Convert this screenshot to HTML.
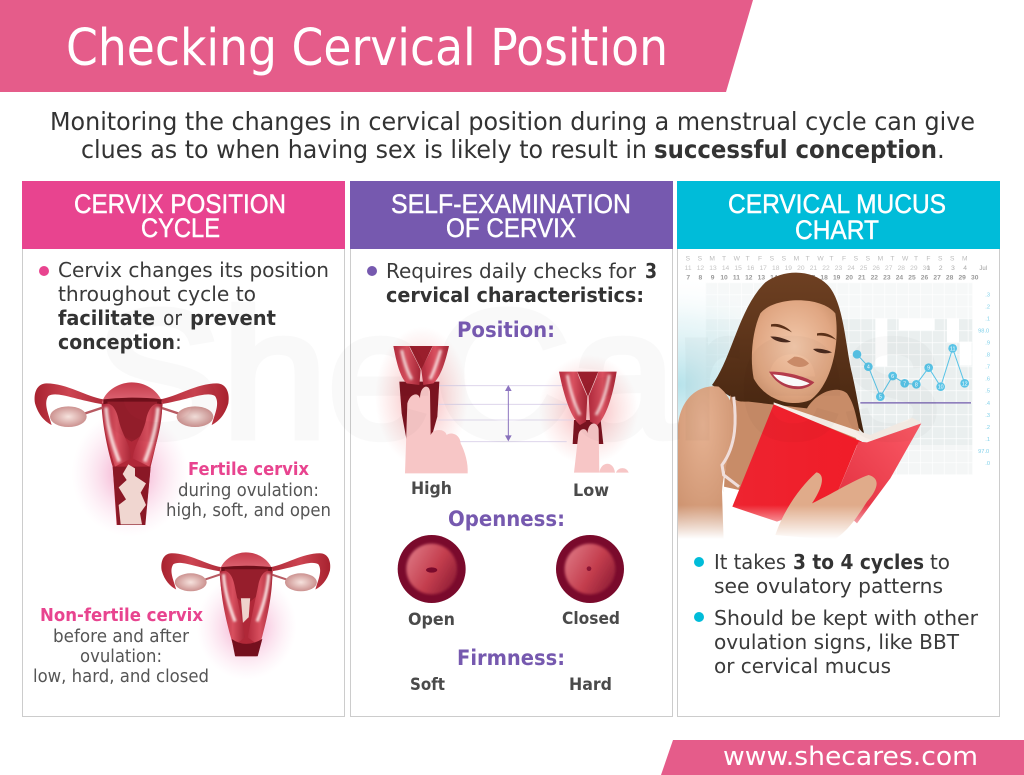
<!DOCTYPE html>
<html><head><meta charset="utf-8"><style>
html,body{margin:0;padding:0;background:#fff}
svg{display:block}
text{font-family:"DejaVu Sans","Liberation Sans",sans-serif}
text.c{font-family:"Liberation Sans",sans-serif}
.h{font-family:"Liberation Sans",sans-serif;fill:#fff;font-size:27px;stroke:#fff;stroke-width:.45px}
.b{font-size:20.5px;fill:#3a3a3a}
.bb{font-size:20.5px;fill:#333;font-weight:bold}
.p{font-size:17.5px;fill:#555}
.pk{font-size:17.5px;fill:#e8448f;font-weight:bold}
.pu{font-size:21px;fill:#7659af;font-weight:bold}
.l{font-size:17px;fill:#4a4a4a;font-weight:bold}
</style></head><body>
<svg xmlns="http://www.w3.org/2000/svg" width="1024" height="775" viewBox="0 0 1024 775">
<defs>
<filter id="bl" x="-30%" y="-30%" width="160%" height="160%"><feGaussianBlur stdDeviation="4"/></filter>
<radialGradient id="glow"><stop offset="0" stop-color="#e8448f" stop-opacity=".55"/><stop offset=".55" stop-color="#f08abb" stop-opacity=".25"/><stop offset="1" stop-color="#f8b8d8" stop-opacity="0"/></radialGradient>
<radialGradient id="glowr"><stop offset="0" stop-color="#e83040" stop-opacity=".42"/><stop offset=".6" stop-color="#f07070" stop-opacity=".18"/><stop offset="1" stop-color="#f08080" stop-opacity="0"/></radialGradient>
<linearGradient id="tube" x1="0" x2="1" y1="0" y2="0"><stop offset="0" stop-color="#a8222f"/><stop offset=".5" stop-color="#cc4451"/><stop offset="1" stop-color="#b02c3a"/></linearGradient>
<linearGradient id="wall" x1="0" x2="1" y1="0" y2="0"><stop offset="0" stop-color="#b52c3e"/><stop offset=".5" stop-color="#d8505f"/><stop offset="1" stop-color="#a82636"/></linearGradient>
<linearGradient id="dome" x1="0" x2="0" y1="0" y2="1"><stop offset="0" stop-color="#c63c4c"/><stop offset="1" stop-color="#e06a78"/></linearGradient>
<radialGradient id="ov"><stop offset="0" stop-color="#f6e2dd"/><stop offset="1" stop-color="#cc9290"/></radialGradient>
<linearGradient id="disc" x1="0" x2="1" y1=".2" y2=".8"><stop offset="0" stop-color="#dd7682"/><stop offset=".55" stop-color="#c43e4e"/><stop offset="1" stop-color="#8e1c34"/></linearGradient>
<linearGradient id="red1" x1="0" x2="1" y1="0" y2="0"><stop offset="0" stop-color="#ee2430"/><stop offset="1" stop-color="#f01c28"/></linearGradient>
<linearGradient id="red2" x1="0" x2="1" y1="1" y2="0"><stop offset="0" stop-color="#e02c3c"/><stop offset="1" stop-color="#fb5a66"/></linearGradient>
<radialGradient id="teal"><stop offset="0" stop-color="#b5e2ea"/><stop offset=".6" stop-color="#dff2f5" stop-opacity=".6"/><stop offset="1" stop-color="#ffffff" stop-opacity="0"/></radialGradient>
<linearGradient id="fade" x1="0" x2="0" y1="0" y2="1"><stop offset="0" stop-color="#fff" stop-opacity="0"/><stop offset=".85" stop-color="#fff"/></linearGradient>
<linearGradient id="hair" x1="0" x2="0" y1="0" y2="1"><stop offset="0" stop-color="#6e4022"/><stop offset="1" stop-color="#44240f"/></linearGradient>
<radialGradient id="face" cx=".5" cy=".45" r=".65"><stop offset="0" stop-color="#f2c8aa"/><stop offset=".7" stop-color="#e0a682"/><stop offset="1" stop-color="#c88e68"/></radialGradient>
<radialGradient id="arm" cx=".45" cy=".25" r=".9"><stop offset="0" stop-color="#e6b292"/><stop offset="1" stop-color="#c68a66"/></radialGradient>
<pattern id="grid" width="35.8" height="36" patternUnits="userSpaceOnUse" x="86" y="113"><rect width="35.8" height="36" fill="none" stroke="#fff" stroke-width="2"/></pattern>
<g id="top">
 <g id="tl">
  <path d="M250,88 C200,80 140,40 80,40 C50,40 40,70 45,100 C55,135 75,155 95,165 C85,130 70,100 85,78 C110,62 160,88 250,103 Z" fill="url(#tube)"/>
  <path d="M190,132 L250,112" stroke="#b85a62" stroke-width="7" fill="none"/>
  <ellipse cx="145" cy="140" rx="55" ry="31" fill="url(#ov)"/>
 </g>
 <use href="#tl" transform="translate(670,0) scale(-1,1)"/>
 <path d="M245,100 C255,60 300,37 335,37 C375,37 415,60 428,100 Z" fill="url(#dome)"/>
 <path d="M250,88 Q335,78 425,88 L425,102 L250,102 Z" fill="#6e0f1a"/>
 <path d="M262,95 L412,95 C400,170 365,200 335,215 C305,200 272,170 262,95 Z" fill="#961e2c"/>
</g>
<path id="hl" d="M258,112 C262,170 280,230 298,275" fill="none" stroke="#f8dcdc" stroke-width="11" filter="url(#bl)"/>
</defs>

<!-- header -->
<polygon points="0,0 753,0 726,92 0,92" fill="#e55c8a"/>
<text x="66" y="65" font-size="51" fill="#fff" textLength="602" lengthAdjust="spacingAndGlyphs">Checking Cervical Position</text>
<text x="50" y="130" font-size="24.5" fill="#333" textLength="925" lengthAdjust="spacingAndGlyphs">Monitoring the changes in cervical position during a menstrual cycle can give</text>
<text x="81" y="158" font-size="24.5" fill="#333" textLength="566" lengthAdjust="spacingAndGlyphs">clues as to when having sex is likely to result in</text>
<text x="654" y="158" font-size="24.5" fill="#333" font-weight="bold" textLength="283" lengthAdjust="spacingAndGlyphs">successful conception</text>
<text x="937" y="158" font-size="24.5" fill="#333">.</text>

<!-- cards -->
<rect x="22.5" y="200" width="322" height="516.5" fill="#fff" stroke="#ccc"/>
<rect x="350.5" y="200" width="322" height="516.5" fill="#fff" stroke="#ccc"/>
<rect x="677.5" y="200" width="322" height="516.5" fill="#fff" stroke="#ccc"/>
<rect x="22" y="181" width="323" height="68" fill="#e8448f"/>
<rect x="350" y="181" width="323" height="68" fill="#7659af"/>
<rect x="677" y="181" width="323" height="68" fill="#00bcd9"/>
<text class="h" x="74" y="213" textLength="212" lengthAdjust="spacingAndGlyphs">CERVIX POSITION</text>
<text class="h" x="141" y="237" textLength="79" lengthAdjust="spacingAndGlyphs">CYCLE</text>
<text class="h" x="391" y="213" textLength="240" lengthAdjust="spacingAndGlyphs">SELF-EXAMINATION</text>
<text class="h" x="446" y="237" textLength="130" lengthAdjust="spacingAndGlyphs">OF CERVIX</text>
<text class="h" x="728" y="213" textLength="218" lengthAdjust="spacingAndGlyphs">CERVICAL MUCUS</text>
<text class="h" x="795" y="239" textLength="84" lengthAdjust="spacingAndGlyphs">CHART</text>

<!-- col 1 images -->
<g transform="translate(20,370) scale(.33333)">
 <ellipse cx="330" cy="310" rx="175" ry="190" fill="url(#glow)"/>
 <ellipse cx="680" cy="770" rx="150" ry="160" fill="url(#glow)"/>
 <path d="M245,100 C245,150 260,230 278,290 L290,465 L375,465 L392,290 C410,220 425,150 428,100 Z" fill="#b02838"/>
 <use href="#top"/>
 <path d="M248,105 C268,92 288,110 296,150 C306,195 330,220 334,265 L285,290 C260,210 245,150 248,105 Z" fill="url(#wall)"/>
 <path d="M426,105 C406,92 386,110 378,150 C368,195 344,220 338,265 L388,290 C414,210 428,150 426,105 Z" fill="url(#wall)"/>
 <use href="#hl"/><use href="#hl" transform="translate(672,0) scale(-1,1)"/>
 <path d="M278,290 L392,290 L376,465 L292,465 Z" fill="#8a1826"/>
 <path d="M325,283 L345,295 L345,318 L378,340 L362,368 L378,405 L360,430 L366,463 L302,463 L296,405 L318,388 L296,352 L320,330 L308,312 Z" fill="#f0d6d0"/>
 <g transform="translate(386,515) scale(.87)">
  <path d="M245,100 C245,160 265,260 290,330 L300,395 L372,395 L384,330 C410,260 425,160 428,100 Z" fill="#b02838"/>
  <use href="#top"/>
  <path d="M248,105 C268,92 288,110 296,150 C306,200 320,260 332,330 L292,360 C262,260 245,170 248,105 Z" fill="url(#wall)"/>
  <path d="M426,105 C406,92 386,110 378,150 C368,200 354,260 342,330 L382,360 C412,260 428,170 426,105 Z" fill="url(#wall)"/>
  <use href="#hl"/><use href="#hl" transform="translate(672,0) scale(-1,1)"/>
  <path d="M318,195 L350,195 L345,260 L325,280 Z" fill="#efd2cc"/>
  <path d="M286,335 Q335,370 392,335 L376,395 L298,395 Z" fill="#74101e"/>
 </g>
</g>

<!-- col 2 images -->
<g transform="translate(350,320) scale(.33333)">
 <ellipse cx="215" cy="230" rx="140" ry="210" fill="url(#glowr)"/>
 <ellipse cx="715" cy="270" rx="150" ry="165" fill="url(#glowr)"/>
 <g stroke="#d8cfe8" stroke-width="2.4">
  <line x1="265" y1="197" x2="650" y2="197"/><line x1="265" y1="253" x2="670" y2="253"/>
  <line x1="265" y1="300" x2="670" y2="300"/><line x1="265" y1="365" x2="650" y2="365"/>
 </g>
 <line x1="475" y1="205" x2="475" y2="355" stroke="#8c74c0" stroke-width="3"/>
 <polygon points="475,195 485,213 465,213" fill="#8c74c0"/>
 <polygon points="475,364 485,346 465,346" fill="#8c74c0"/>
 <!-- high -->
 <path d="M148,185 L268,185 L262,290 L240,368 L172,372 L155,280 Z" fill="#7a1420"/>
 <path d="M130,78 C140,130 150,170 170,190 L208,195 L212,150 C195,110 180,90 178,78 Z" fill="url(#wall)"/>
 <path d="M297,78 C285,130 272,170 250,190 L220,195 L214,150 C232,110 245,90 248,78 Z" fill="url(#wall)"/>
 <path d="M178,78 L248,78 L214,150 Z" fill="#9a1e2c"/>
 <path d="M155,90 C162,125 172,155 185,178 M272,90 C262,125 252,155 240,178" fill="none" stroke="#f8dcdc" stroke-width="9" filter="url(#bl)"/>
 <path d="M165,460 L172,250 C180,220 205,215 210,235 C210,195 238,190 240,215 L242,345 C250,325 285,325 290,345 C300,335 330,340 332,370 C345,395 355,430 353,460 Z" fill="#f7c6c6"/>
 <!-- low -->
 <path d="M672,300 L752,300 L760,372 L668,372 Z" fill="#7a1420"/>
 <path d="M627,155 C640,220 660,290 690,315 L708,305 L712,230 C695,190 685,170 682,155 Z" fill="url(#wall)"/>
 <path d="M800,155 C790,220 770,290 742,315 L720,305 L716,230 C732,190 742,170 745,155 Z" fill="url(#wall)"/>
 <path d="M682,155 L745,155 L714,230 Z" fill="#9a1e2c"/>
 <path d="M652,165 C660,210 672,250 690,285 M778,165 C770,210 758,250 738,285" fill="none" stroke="#f8dcdc" stroke-width="8" filter="url(#bl)"/>
 <path d="M672,458 L685,345 C690,320 712,325 712,340 C716,300 745,305 746,330 L748,458 Z" fill="#f7c6c6"/>
 <path d="M748,458 C752,425 790,420 795,458 Z M798,458 C805,440 830,440 836,458 Z" fill="#f7c6c6"/>
 <!-- circles -->
 <circle cx="245" cy="747" r="102" fill="#7a0a2c"/>
 <circle cx="245" cy="747" r="76" fill="url(#disc)" filter="url(#bl)"/>
 <ellipse cx="245" cy="750" rx="17" ry="8" fill="#7a0a2c"/>
 <circle cx="720" cy="747" r="102" fill="#7a0a2c"/>
 <circle cx="720" cy="747" r="76" fill="url(#disc)" filter="url(#bl)"/>
 <circle cx="717" cy="746" r="7" fill="#8a1434"/>
</g>

<!-- col 3 image -->
<svg x="678" y="249" width="321" height="295" viewBox="3 12 963 885">
 <rect x="0" y="0" width="969" height="900" fill="#fff"/>
 <rect x="86" y="113" width="800" height="107" fill="#f6f8f8"/>
 <rect x="86" y="220" width="800" height="380" fill="#eaefef"/>
 <rect x="86" y="600" width="800" height="90" fill="#f4f6f6"/>
 <path d="M595,220h36v144h-36z M665,220h108v36h-108z M810,220h36v72h-36z M848,290h36v72h-36z" fill="#fff"/>
 <rect x="86" y="113" width="800" height="577" fill="url(#grid)"/>
 <ellipse cx="0" cy="420" rx="420" ry="330" fill="url(#teal)"/>
 <text class="c" y="47" font-size="20" fill="#bbb" x="26 62 97 135 170 206 243 278 314 350 386 421 457 495 530 566 602 640 675 711 748 783 819 855">SSMTWTFSSMTWTFSSMTWTFSSM</text>
 <text class="c" y="75" font-size="20" fill="#c4c4c4" x="23" word-spacing="9.9">11 12 13 14 15 16 17 18 19 20 21 22 23 24 25 26 27 28 29 30</text>
 <text class="c" y="75" font-size="20" fill="#aaa" x="749" word-spacing="20">1 2 3 4</text>
 <text class="c" y="103" font-size="20" fill="#999" font-weight="bold" x="28" word-spacing="20">7 8 9</text>
 <text class="c" y="103" font-size="20" fill="#999" font-weight="bold" x="130" word-spacing="9.9">10 11 12 13 14 15 16 17 18 19 20 21 22 23 24 25 26 27 28 29 30</text>
 <text class="c" y="75" font-size="18" fill="#999" x="907">Jul</text>
 <g font-size="17" fill="#7fd0ea" text-anchor="middle">
  <text class="c" x="932" y="155">.3</text><text class="c" x="932" y="191">.2</text><text class="c" x="932" y="227">.1</text><text class="c" x="920" y="263">98.0</text><text class="c" x="932" y="299">.9</text><text class="c" x="932" y="335">.8</text><text class="c" x="932" y="371">.7</text><text class="c" x="932" y="407">.6</text><text class="c" x="932" y="443">.5</text><text class="c" x="932" y="480">.4</text><text class="c" x="932" y="516">.3</text><text class="c" x="932" y="552">.2</text><text class="c" x="932" y="588">.1</text><text class="c" x="920" y="624">97.0</text><text class="c" x="932" y="660">.0</text>
 </g>
 <rect x="550" y="471" width="332" height="5" fill="#8f80bd"/>
 <polyline points="540,328 574,365 610,455 647,393 683,415 718,418 755,368 791,425 827,310 863,415" fill="none" stroke="#58c3e6" stroke-width="3"/>
 <g fill="#58c3e6"><circle cx="540" cy="328" r="13"/><circle cx="574" cy="365" r="13"/><circle cx="610" cy="455" r="13"/><circle cx="647" cy="393" r="13"/><circle cx="683" cy="415" r="13"/><circle cx="718" cy="418" r="13"/><circle cx="755" cy="368" r="13"/><circle cx="791" cy="425" r="13"/><circle cx="827" cy="310" r="13"/><circle cx="863" cy="415" r="13"/></g>
 <g font-size="16" fill="#fff" text-anchor="middle"><text class="c" x="574" y="371">4</text><text class="c" x="610" y="461">5</text><text class="c" x="647" y="399">6</text><text class="c" x="683" y="421">7</text><text class="c" x="718" y="424">8</text><text class="c" x="755" y="374">9</text><text class="c" x="791" y="431">10</text><text class="c" x="827" y="316">11</text><text class="c" x="863" y="421">12</text></g>
 <!-- woman -->
 <path d="M105,420 C165,340 185,190 265,112 C320,72 405,72 452,120 C500,170 505,300 525,385 C540,450 550,520 562,568 L500,500 L380,500 L200,480 Z" fill="url(#hair)"/>
 <path d="M160,450 C170,470 190,470 215,470 L390,490 C420,440 480,420 510,445 C535,480 540,530 550,570 L400,700 L230,770 L140,740 Z" fill="#c88c68"/>
 <path d="M3,540 C15,440 85,418 125,425 C150,445 165,470 170,500 C172,600 140,660 135,740 L140,890 L3,890 Z" fill="url(#arm)"/>
 <path d="M250,205 C290,155 430,150 475,205 C490,300 462,420 400,465 C340,490 262,462 230,400 C218,340 226,258 250,205 Z" fill="url(#face)"/>
 <path d="M170,455 C178,520 180,600 135,660 L140,690 L186,725" fill="none" stroke="#f0dedb" stroke-width="9"/>
 <path d="M140,725 L186,735 L300,820 L295,870 L140,865 Z" fill="#fff"/>
 <path d="M282,238 C305,232 330,245 345,262 C325,252 300,242 282,245 Z M420,265 C445,260 465,270 478,285 C460,276 440,270 420,272 Z" fill="#5a3018"/>
 <path d="M280,275 C300,272 325,282 342,290 C320,296 295,290 280,275 Z M408,312 C425,308 450,314 465,322 C445,328 420,325 408,312 Z" fill="#4a2a1e"/>
 <path d="M330,350 C348,368 380,372 396,355 C385,345 375,335 352,335 Z" fill="#c98a68"/>
 <path d="M276,380 C320,378 380,392 412,412 C380,445 310,440 276,380 Z" fill="#b53c4c"/>
 <path d="M288,388 C320,390 365,400 398,415 C370,432 315,425 288,388 Z" fill="#fff"/>
 <path d="M290,472 L580,570 L705,518 L733,533 L570,592 L290,482 Z" fill="#f7efe8"/>
 <path d="M290,478 L555,590 L540,600 L470,770 L410,790 L300,830 L166,785 Z" fill="url(#red1)"/>
 <path d="M545,590 L570,592 L733,535 L640,700 L540,835 L470,770 Z" fill="url(#red2)"/>
 <path d="M295,870 C320,795 370,725 418,682 C440,685 445,715 405,775 C460,750 530,705 575,690 C610,700 605,730 570,770 C535,825 510,860 470,885 Z" fill="#e0ab8a"/>
 <rect x="0" y="780" width="969" height="120" fill="url(#fade)"/>
</svg>

<!-- watermark -->
<g opacity=".02"><text class="c" x="95" y="437" textLength="845" lengthAdjust="spacingAndGlyphs" font-size="182" fill="#000" stroke="#000" stroke-width="7">SheCares</text></g>

<!-- col 1 text -->
<circle cx="44" cy="271" r="5" fill="#e8448f"/>
<text class="b" x="58" y="277" textLength="271" lengthAdjust="spacingAndGlyphs">Cervix changes its position</text>
<text class="b" x="58" y="301" textLength="198" lengthAdjust="spacingAndGlyphs">throughout cycle to</text>
<text class="bb" x="58" y="325" textLength="97" lengthAdjust="spacingAndGlyphs">facilitate</text>
<text class="b" x="163" y="325" textLength="19" lengthAdjust="spacingAndGlyphs">or</text>
<text class="bb" x="190" y="325" textLength="86" lengthAdjust="spacingAndGlyphs">prevent</text>
<text class="bb" x="58" y="349" textLength="117" lengthAdjust="spacingAndGlyphs">conception</text>
<text class="b" x="175" y="349">:</text>
<text class="pk" x="188" y="475" textLength="121" lengthAdjust="spacingAndGlyphs">Fertile cervix</text>
<text class="p" x="178" y="496" textLength="141" lengthAdjust="spacingAndGlyphs">during ovulation:</text>
<text class="p" x="166" y="516" textLength="165" lengthAdjust="spacingAndGlyphs">high, soft, and open</text>
<text class="pk" x="40" y="621" textLength="163" lengthAdjust="spacingAndGlyphs">Non-fertile cervix</text>
<text class="p" x="53" y="642" textLength="136" lengthAdjust="spacingAndGlyphs">before and after</text>
<text class="p" x="80" y="662" textLength="82" lengthAdjust="spacingAndGlyphs">ovulation:</text>
<text class="p" x="33" y="682" textLength="176" lengthAdjust="spacingAndGlyphs">low, hard, and closed</text>

<!-- col 2 text -->
<circle cx="372" cy="271" r="5" fill="#7659af"/>
<text class="b" x="386" y="278" textLength="250" lengthAdjust="spacingAndGlyphs">Requires daily checks for</text>
<text class="bb" x="645" y="278" textLength="12" lengthAdjust="spacingAndGlyphs">3</text>
<text class="bb" x="386" y="302" textLength="258" lengthAdjust="spacingAndGlyphs">cervical characteristics:</text>
<text class="pu" x="457" y="337" textLength="98" lengthAdjust="spacingAndGlyphs">Position:</text>
<text class="l" x="411" y="494" textLength="41" lengthAdjust="spacingAndGlyphs">High</text>
<text class="l" x="573" y="496" textLength="36" lengthAdjust="spacingAndGlyphs">Low</text>
<text class="pu" x="448" y="526" textLength="117" lengthAdjust="spacingAndGlyphs">Openness:</text>
<text class="l" x="408" y="625" textLength="47" lengthAdjust="spacingAndGlyphs">Open</text>
<text class="l" x="562" y="624" textLength="58" lengthAdjust="spacingAndGlyphs">Closed</text>
<text class="pu" x="457" y="665" textLength="108" lengthAdjust="spacingAndGlyphs">Firmness:</text>
<text class="l" x="410" y="690" textLength="35" lengthAdjust="spacingAndGlyphs">Soft</text>
<text class="l" x="569" y="690" textLength="43" lengthAdjust="spacingAndGlyphs">Hard</text>

<!-- col 3 text -->
<circle cx="699" cy="562" r="5" fill="#00bcd9"/>
<circle cx="699" cy="617" r="5" fill="#00bcd9"/>
<text class="b" x="714" y="569" textLength="72" lengthAdjust="spacingAndGlyphs">It takes</text>
<text class="bb" x="793" y="569" textLength="131" lengthAdjust="spacingAndGlyphs">3 to 4 cycles</text>
<text class="b" x="930" y="569" textLength="20" lengthAdjust="spacingAndGlyphs">to</text>
<text class="b" x="714" y="593" textLength="229" lengthAdjust="spacingAndGlyphs">see ovulatory patterns</text>
<text class="b" x="714" y="625" textLength="264" lengthAdjust="spacingAndGlyphs">Should be kept with other</text>
<text class="b" x="714" y="649" textLength="245" lengthAdjust="spacingAndGlyphs">ovulation signs, like BBT</text>
<text class="b" x="714" y="673" textLength="177" lengthAdjust="spacingAndGlyphs">or cervical mucus</text>

<!-- footer -->
<polygon points="673,740 1024,740 1024,775 661,775" fill="#e55c8a"/>
<text x="723" y="765" font-size="25.5" fill="#fff" textLength="255" lengthAdjust="spacingAndGlyphs">www.shecares.com</text>
</svg>
</body></html>
